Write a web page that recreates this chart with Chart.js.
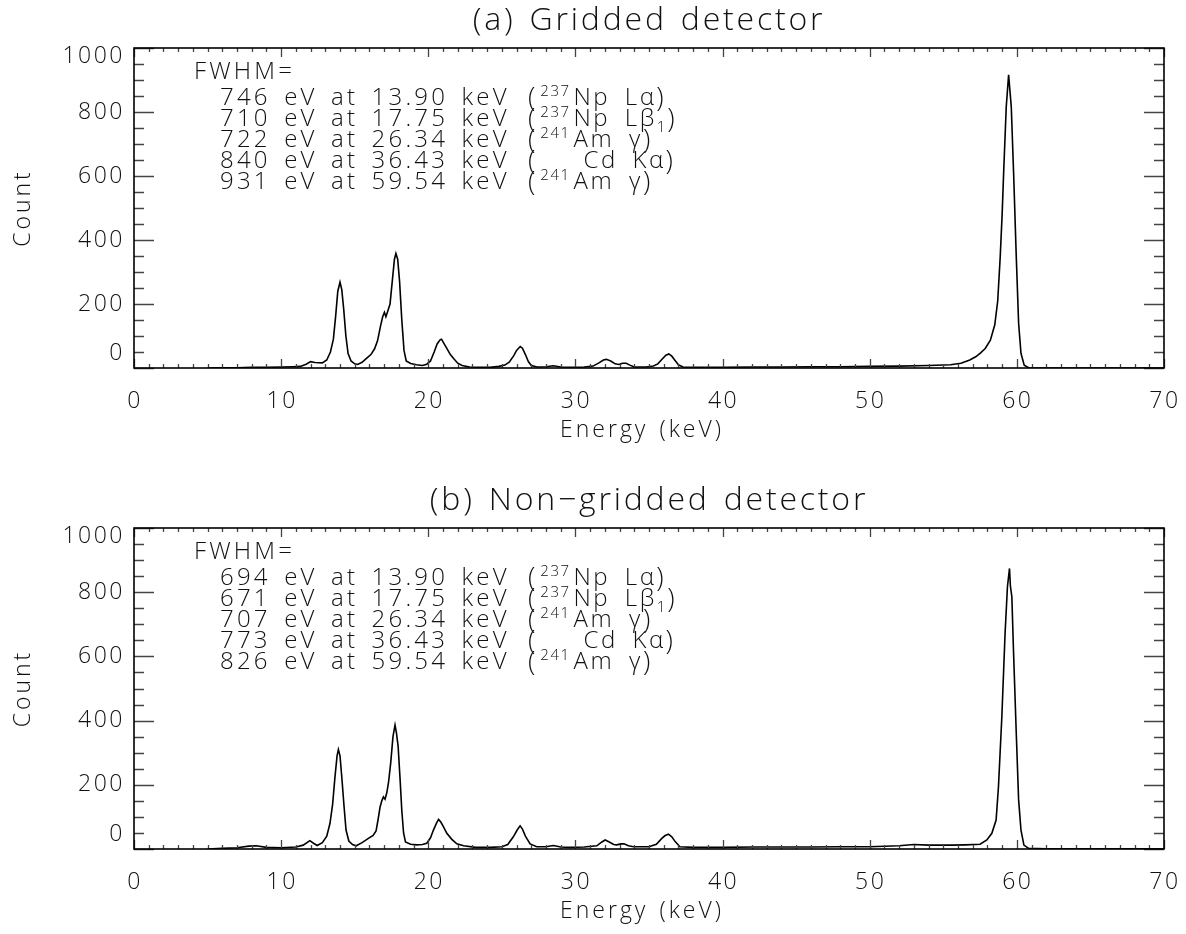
<!DOCTYPE html>
<html>
<head>
<meta charset="utf-8">
<script src="https://cdn.jsdelivr.net/npm/chart.js@4/dist/chart.umd.min.js"></script>
<style>
  body { margin: 0; background: #fff; }
  .panel { position: absolute; left: 0; width: 1186px; height: 467px; }
</style>
</head>
<body>
<div class="panel" style="top:0"><canvas id="gridded" width="1186" height="467"></canvas></div>
<div class="panel" style="top:467px"><canvas id="nongridded" width="1186" height="467"></canvas></div>
<script>
// spectrum (a): gridded detector, energy in keV / counts per channel
const energyA = [5.0, 6.0, 7.0, 8.0, 9.0, 10.0, 10.8, 11.3, 11.7, 12.0, 12.3, 12.8, 13.1, 13.35, 13.55, 13.7, 13.85, 14.0,
  14.12, 14.25, 14.4, 14.55, 14.75, 15.0, 15.2, 15.5, 15.8, 16.1, 16.35, 16.55, 16.75, 16.9, 17.02, 17.12, 17.25, 17.4,
  17.55, 17.7, 17.8, 17.92, 18.05, 18.2, 18.35, 18.5, 18.8, 19.2, 19.6, 19.9, 20.15, 20.4, 20.6, 20.8, 20.9, 21.05,
  21.25, 21.5, 21.75, 22.0, 22.3, 22.8, 23.5, 24.2, 24.8, 25.2, 25.5, 25.8, 26.0, 26.25, 26.4, 26.6, 26.8, 27.0, 27.4,
  28.0, 28.5, 29.0, 29.8, 30.6, 31.2, 31.6, 31.9, 32.1, 32.4, 32.7, 32.95, 33.2, 33.45, 33.7, 34.0, 34.8, 35.3, 35.6,
  35.9, 36.15, 36.35, 36.55, 36.8, 37.0, 37.3, 38.0, 40.0, 42.0, 44.0, 46.0, 48.0, 50.0, 52.0, 54.0, 55.5, 56.2, 56.8,
  57.2, 57.5, 57.85, 58.2, 58.5, 58.7, 58.87, 59.0, 59.1, 59.28, 59.44, 59.62, 59.78, 59.96, 60.12, 60.28, 60.5, 60.8,
  62.0, 66.0, 70.0];
const countA = [0, 1, 1, 2, 2, 3, 4, 5, 12, 20, 17, 16, 25, 50, 90, 160, 240, 268,
  245, 185, 100, 45, 22, 13, 11, 18, 30, 42, 60, 85, 130, 160, 174, 160, 178, 200,
  270, 340, 358, 340, 270, 150, 55, 22, 14, 10, 8, 12, 22, 50, 75, 88, 90, 78,
  62, 42, 28, 15, 8, 3, 2, 2, 5, 9, 18, 38, 55, 67, 62, 42, 20, 8, 3,
  4, 7, 3, 2, 3, 6, 16, 25, 27, 22, 13, 11, 15, 15, 9, 3, 3, 6, 13,
  28, 40, 44, 37, 22, 10, 3, 2, 2, 3, 3, 4, 4, 5, 6, 8, 10, 15, 25,
  35, 46, 61, 87, 135, 210, 348, 480, 608, 817, 916, 817, 608, 348, 140, 46, 9, 1,
  0, 0, 0];

// spectrum (b): non-gridded detector
const energyB = [5.0, 6.0, 7.0, 7.8, 8.3, 9.0, 10.0, 11.0, 11.5, 11.95, 12.2, 12.45, 12.8, 13.1, 13.32, 13.5, 13.65,
  13.8, 13.89, 14.0, 14.12, 14.28, 14.41, 14.6, 14.85, 15.1, 15.5, 15.93, 16.25, 16.45, 16.6, 16.72, 16.84, 16.95,
  17.06, 17.18, 17.3, 17.45, 17.6, 17.74, 17.84, 17.95, 18.08, 18.2, 18.32, 18.45, 18.8, 19.2, 19.6, 19.9, 20.15,
  20.35, 20.55, 20.7, 20.85, 21.0, 21.26, 21.6, 21.94, 22.4, 23.2, 24.2, 25.0, 25.4, 25.78, 26.05, 26.24, 26.4, 26.6,
  26.92, 27.37, 28.0, 28.5, 29.0, 29.6, 30.6, 31.45, 31.8, 32.02, 32.3, 32.6, 32.81, 33.1, 33.3, 33.6, 33.95, 35.0,
  35.5, 35.87, 36.1, 36.32, 36.55, 36.78, 37.1, 38.0, 40.0, 42.0, 44.0, 46.0, 48.0, 50.0, 52.0, 53.0, 54.0, 55.5,
  56.5, 57.5, 57.96, 58.3, 58.59, 58.75, 58.98, 59.2, 59.36, 59.5, 59.56, 59.66, 59.77, 59.96, 60.12, 60.28, 60.48,
  60.8, 62.0, 66.0, 70.0];
const countB = [0, 2, 4, 9, 10, 5, 4, 6, 12, 26, 18, 11, 20, 40, 80, 140, 220,
  290, 310, 290, 225, 130, 59, 25, 14, 10, 20, 33, 42, 56, 95, 130, 150, 162,
  155, 175, 208, 270, 350, 386, 360, 320, 220, 120, 50, 22, 15, 13, 14, 18, 35,
  59, 80, 92, 84, 72, 49, 30, 16, 10, 5, 5, 7, 14, 38, 60, 72, 62, 40,
  16, 7, 7, 11, 6, 5, 6, 10, 22, 28, 22, 14, 13, 16, 16, 10, 7, 7,
  15, 33, 42, 46, 38, 23, 7, 5, 5, 6, 6, 6, 7, 7, 10, 14, 12, 12,
  13, 15, 28, 49, 90, 194, 412, 672, 817, 874, 820, 786, 620, 360, 153, 59, 12,
  2, 1, 1, 1];

// FWHM read-outs and line identifications
const fwhmA = ['746 eV at 13.90 keV', '710 eV at 17.75 keV', '722 eV at 26.34 keV', '840 eV at 36.43 keV', '931 eV at 59.54 keV'];
const fwhmB = ['694 eV at 13.90 keV', '671 eV at 17.75 keV', '707 eV at 26.34 keV', '773 eV at 36.43 keV', '826 eV at 59.54 keV'];
const lineSup = ['237', '237', '241', '', '241'];
const lineName = ['Np Lα', 'Np Lβ', 'Am γ', 'Cd Kα', 'Am γ'];
const lineSub = ['', '1', '', '', ''];

const xTickLabels = [0, 10, 20, 30, 40, 50, 60, 70];
const yTickLabels = [0, 200, 400, 600, 800, 1000];
const xMinorStep = 1;
const yMinorStep = 50;

const FONT = '"Open Sans", "DejaVu Sans", sans-serif';
const INK = '#111';

function setFont(ctx, size, spacing, words) {
  ctx.font = `300 ${size}px ${FONT}`;
  ctx.letterSpacing = (spacing || 0) + 'px';
  ctx.wordSpacing = (words || 0) + 'px';
}

// IDL-style frame: box, inward ticks on all four sides, labels and notes
const idlFrame = {
  id: 'idlFrame',
  afterDraw(chart, args, opts) {
    const ctx = chart.ctx;
    const { left, right, top, bottom } = chart.chartArea;
    const xs = chart.scales.x, ys = chart.scales.y;
    ctx.save();

    // ticks
    ctx.strokeStyle = '#444';
    ctx.lineWidth = 1.3;
    ctx.beginPath();
    for (let v = xs.min; v <= xs.max + 1e-9; v += xMinorStep) {
      const px = Math.round(xs.getPixelForValue(v)) + 0.5;
      const len = xTickLabels.includes(v) ? 9 : 4;
      ctx.moveTo(px, bottom); ctx.lineTo(px, bottom - len);
      ctx.moveTo(px, top); ctx.lineTo(px, top + len);
    }
    for (let v = ys.min; v <= ys.max + 1e-9; v += yMinorStep) {
      const py = Math.round(ys.getPixelForValue(v)) + 0.5;
      const len = yTickLabels.includes(v) ? 20 : 10;
      ctx.moveTo(left, py); ctx.lineTo(left + len, py);
      ctx.moveTo(right, py); ctx.lineTo(right - len, py);
    }
    ctx.stroke();

    // box
    ctx.strokeStyle = '#000';
    ctx.lineWidth = 1.6;
    ctx.strokeRect(left, top, right - left, bottom - top);

    ctx.fillStyle = INK;
    ctx.textBaseline = 'alphabetic';

    // tick labels
    setFont(ctx, 23, 2.5);
    ctx.textAlign = 'center';
    xTickLabels.forEach(v => {
      ctx.fillText(String(v), xs.getPixelForValue(v) + 1, bottom + 40);
    });
    ctx.textAlign = 'right';
    ctx.textBaseline = 'middle';
    yTickLabels.forEach(v => {
      let py = ys.getPixelForValue(v);
      if (v === ys.max) py += 8;
      if (v === ys.min) py -= 15;
      ctx.fillText(String(v), left - 9, py);
    });

    // axis titles
    ctx.textBaseline = 'alphabetic';
    ctx.textAlign = 'center';
    setFont(ctx, 23, 3, 2);
    ctx.fillText('Energy (keV)', (left + right) / 2 - 7, bottom + 69);
    ctx.save();
    ctx.translate(30, (top + bottom) / 2);
    ctx.rotate(-Math.PI / 2);
    ctx.fillText('Count', 0, 0);
    ctx.restore();

    // panel title
    setFont(ctx, 32, 2.8, 3);
    ctx.textAlign = 'center';
    ctx.fillText(opts.title, (left + right) / 2, top - 18);

    // FWHM notes
    ctx.textAlign = 'left';
    setFont(ctx, 24, 3.2);
    ctx.fillText('FWHM=', 194, top + 31);
    opts.notes.forEach((txt, i) => {
      const base = top + 57 + i * 21;
      setFont(ctx, 24, 3.2, 4);
      ctx.fillText(txt, 220, base);

      let x = 528;
      setFont(ctx, 27, 0);
      ctx.fillText('(', x, base + 2);
      x += ctx.measureText('(').width + 5;
      setFont(ctx, 15, 1.5);
      if (lineSup[i]) {
        ctx.fillText(lineSup[i], x, base - 9);
        x += ctx.measureText(lineSup[i]).width + 3;
      } else {
        x += ctx.measureText('000').width + 13;
      }
      setFont(ctx, 24, 2.5, 6);
      ctx.fillText(lineName[i], x, base);
      x += ctx.measureText(lineName[i]).width;
      if (lineSub[i]) {
        setFont(ctx, 15, 0);
        ctx.fillText(lineSub[i], x, base + 6);
        x += ctx.measureText(lineSub[i]).width + 2;
      }
      setFont(ctx, 27, 0);
      ctx.fillText(')', x, base + 2);
    });

    ctx.restore();
  }
};

function makePanel(id, title, energy, counts, notes, pad) {
  return new Chart(document.getElementById(id), {
    type: 'line',
    data: {
      datasets: [{
        data: energy.map((e, i) => ({ x: e, y: counts[i] })),
        borderColor: '#000',
        borderWidth: 1.6,
        pointRadius: 0,
        tension: 0,
        fill: false
      }]
    },
    options: {
      responsive: false,
      animation: false,
      devicePixelRatio: 1,
      events: [],
      layout: { padding: { left: 134, right: 22, top: pad.top, bottom: pad.bottom } },
      scales: {
        x: { type: 'linear', min: 0, max: 70, display: false },
        y: { type: 'linear', min: 0, max: 1000, display: false }
      },
      plugins: {
        legend: { display: false },
        tooltip: { enabled: false },
        idlFrame: { title: title, notes: notes }
      }
    },
    plugins: [idlFrame]
  });
}

makePanel('gridded', '(a) Gridded detector', energyA, countA, fwhmA, { top: 48, bottom: 99 });
makePanel('nongridded', '(b) Non\u2212gridded detector', energyB, countB, fwhmB, { top: 61, bottom: 85 });
</script>
</body>
</html>
